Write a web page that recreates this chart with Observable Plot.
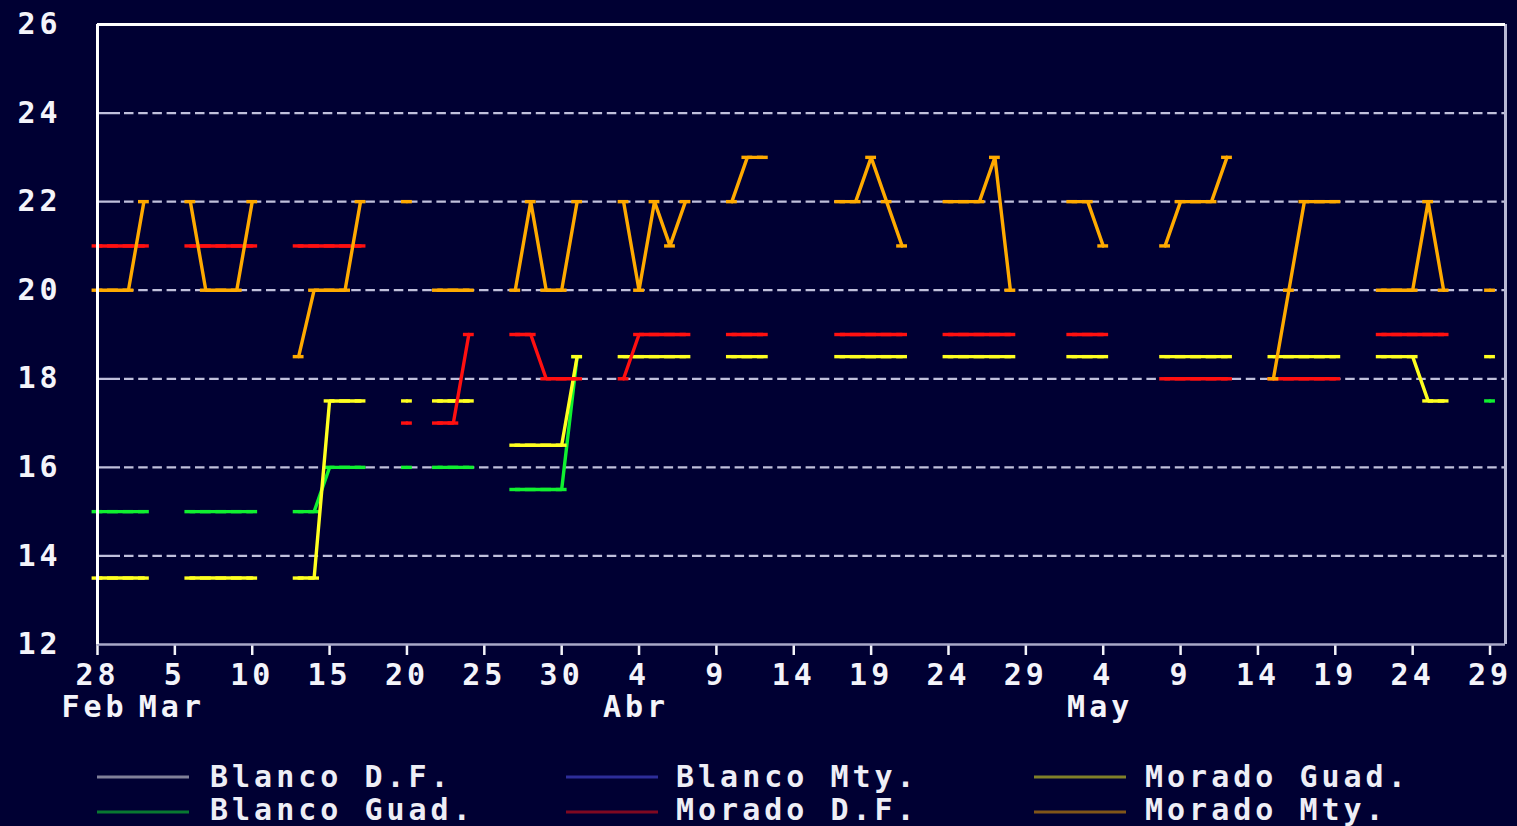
<!DOCTYPE html>
<html>
<head>
<meta charset="utf-8">
<script src="https://cdn.jsdelivr.net/npm/d3@7"></script>
<script src="https://cdn.jsdelivr.net/npm/@observablehq/plot@0.6"></script>
<style>
  html, body { margin: 0; padding: 0; background: #000033; }
  #wrap { width: 1517px; height: 826px; overflow: hidden; background: #000033; }
  #wrap svg { display: block; }
  g[aria-label="x-axis tick"] { stroke-width: 2.5px; }
</style>
</head>
<body>
<div id="wrap"></div>
<script>
// ---- observation days (business days with data) ----
const days = [
  "1995-02-28","1995-03-01","1995-03-02","1995-03-03",
  "1995-03-06","1995-03-07","1995-03-08","1995-03-09","1995-03-10",
  "1995-03-13","1995-03-14","1995-03-15","1995-03-16","1995-03-17",
  "1995-03-20",
  "1995-03-22","1995-03-23","1995-03-24",
  "1995-03-27","1995-03-28","1995-03-29","1995-03-30","1995-03-31",
  "1995-04-03","1995-04-04","1995-04-05","1995-04-06","1995-04-07",
  "1995-04-10","1995-04-11","1995-04-12",
  "1995-04-17","1995-04-18","1995-04-19","1995-04-20","1995-04-21",
  "1995-04-24","1995-04-25","1995-04-26","1995-04-27","1995-04-28",
  "1995-05-02","1995-05-03","1995-05-04",
  "1995-05-08","1995-05-09","1995-05-10","1995-05-11","1995-05-12",
  "1995-05-15","1995-05-16","1995-05-17","1995-05-18","1995-05-19",
  "1995-05-22","1995-05-23","1995-05-24","1995-05-25","1995-05-26",
  "1995-05-29"
];

// ---- series values (null = no value) ----
const blancoDF = [];
const blancoMty = [];
const blancoGuad = [
  15,15,15,15,
  15,15,15,15,15,
  15,15,16,16,16,
  16,
  16,16,16,
  15.5,15.5,15.5,15.5,18.5,
  null,null,null,null,null,
  null,null,null,
  null,null,null,null,null,
  null,null,null,null,null,
  null,null,null,
  null,null,null,null,null,
  null,null,null,null,null,
  null,null,null,null,null,
  17.5
];
const moradoGuad = [
  13.5,13.5,13.5,13.5,
  13.5,13.5,13.5,13.5,13.5,
  13.5,13.5,17.5,17.5,17.5,
  17.5,
  17.5,17.5,17.5,
  16.5,16.5,16.5,16.5,18.5,
  18.5,18.5,18.5,18.5,18.5,
  18.5,18.5,18.5,
  18.5,18.5,18.5,18.5,18.5,
  18.5,18.5,18.5,18.5,18.5,
  18.5,18.5,18.5,
  18.5,18.5,18.5,18.5,18.5,
  18.5,18.5,18.5,18.5,18.5,
  18.5,18.5,18.5,17.5,17.5,
  18.5
];
const moradoDF = [
  21,21,21,21,
  21,21,21,21,21,
  21,21,21,21,21,
  17,
  17,17,19,
  19,19,18,18,18,
  18,19,19,19,19,
  19,19,19,
  19,19,19,19,19,
  19,19,19,19,19,
  19,19,19,
  18,18,18,18,18,
  18,18,18,18,18,
  19,19,19,19,19,
  null
];
const moradoMty = [
  20,20,20,22,
  22,20,20,20,22,
  18.5,20,20,20,22,
  22,
  20,20,20,
  20,22,20,20,22,
  22,20,22,21,22,
  22,23,23,
  22,22,23,22,21,
  22,22,22,23,20,
  22,22,21,
  21,22,22,22,23,
  18,20,22,22,22,
  20,20,20,22,20,
  20
];

const seriesNames  = ["Blanco D.F.","Blanco Guad.","Blanco Mty.","Morado D.F.","Morado Guad.","Morado Mty."];
const seriesColors = ["#ffffff","#10f030","#5a5aff","#ff1010","#ffff20","#ffaa00"];
const seriesValues = [blancoDF, blancoGuad, blancoMty, moradoDF, moradoGuad, moradoMty];
const drawOrder    = ["Blanco D.F.","Blanco Mty.","Blanco Guad.","Morado Guad.","Morado D.F.","Morado Mty."];

// ---- axis ticks ----
const yTicks = [12,14,16,18,20,22,24,26];
const gridValues = [14,16,18,20,22,24];
const xTickDays = ["1995-02-28","1995-03-05","1995-03-10","1995-03-15","1995-03-20","1995-03-25","1995-03-30",
  "1995-04-04","1995-04-09","1995-04-14","1995-04-19","1995-04-24","1995-04-29",
  "1995-05-04","1995-05-09","1995-05-14","1995-05-19","1995-05-24","1995-05-29"];
const xTickLabels = ["28","5","10","15","20","25","30","4","9","14","19","24","29","4","9","14","19","24","29"];
const monthLabels = ["Feb","Mar","Abr","May"];
const monthDays = ["1995-02-28","1995-03-05","1995-04-04","1995-05-04"];

// ---- build ----
const parse = d3.utcParse("%Y-%m-%d");
const dates = days.map(parse);
const xTickDates = xTickDays.map(parse);
const DAY = 864e5;
let run = 0;
const runs = dates.map((d, i) => (i > 0 && (d - dates[i - 1]) > 1.5 * DAY ? ++run : run));

const rows = [];
seriesNames.forEach((name, s) => {
  const vals = seriesValues[s];
  dates.forEach((date, i) => {
    const v = vals[i];
    rows.push({series: name, date, run: runs[i], value: (v === null || v === undefined) ? NaN : v});
  });
});

const colorOf = name => seriesColors[seriesNames.indexOf(name)];
const seriesMarks = drawOrder.flatMap(name => {
  const data = rows.filter(r => r.series === name);
  const defined = data.filter(r => Number.isFinite(r.value));
  return [
    Plot.line(data, {x: "date", y: "value", z: "run", stroke: colorOf(name), strokeWidth: 3.4, strokeLinejoin: "bevel"}),
    Plot.ruleY(defined, {
      y: "value",
      x1: r => new Date(+r.date - 0.35 * DAY),
      x2: r => new Date(+r.date + 0.35 * DAY),
      stroke: colorOf(name), strokeWidth: 3.4
    })
  ];
});

const start = parse("1995-02-28");
const end = parse("1995-05-30");
const dash = "23,4," + Array(110).fill("9.5,4.7").join(",");

const chart = Plot.plot({
  width: 1517,
  height: 735,
  marginLeft: 97,
  marginRight: 12,
  marginTop: 24,
  marginBottom: 91,
  style: {
    background: "#000033",
    color: "#f4f4fa",
    fontFamily: "'DejaVu Sans Mono', monospace",
    fontSize: "30px",
    fontWeight: "bold",
    letterSpacing: "4px",
    overflow: "visible"
  },
  x: {
    type: "utc",
    domain: [start, end],
    ticks: xTickDates,
    tickFormat: d => xTickLabels[xTickDates.findIndex(t => +t === +d)],
    tickSize: 11,
    tickPadding: 8,
    label: null
  },
  y: {
    domain: [12, 26],
    ticks: yTicks,
    tickSize: 0,
    tickPadding: 36,
    label: null
  },
  marks: [
    Plot.ruleY(gridValues, {stroke: "#c0c0dc", strokeWidth: 2.2, strokeDasharray: dash}),
    ...seriesMarks,
    Plot.ruleY([12], {stroke: "#a8a8c8", strokeWidth: 2.5}),
    Plot.ruleX([end], {stroke: "#b8b8d4", strokeWidth: 3}),
    Plot.ruleY([26], {stroke: "#ffffff", strokeWidth: 3}),
    Plot.ruleX([start], {stroke: "#ffffff", strokeWidth: 3}),
    Plot.text(monthLabels, {
      x: (d, i) => parse(monthDays[i]),
      frameAnchor: "bottom",
      dy: 63, dx: -3,
      text: d => d,
      fill: "#f4f4fa",
      fontSize: 30,
      lineAnchor: "middle"
    })
  ]
});

const wrap = document.getElementById("wrap");
wrap.appendChild(chart);

// ---- legend (below the plot) ----
const legend = d3.create("svg")
  .attr("width", 1517).attr("height", 91)
  .style("display", "block").style("background", "#000033");
const colX = [97, 566, 1034];
const textX = [210, 676, 1145];
const lineY = [42, 77];
const baseY = [52, 85];
seriesNames.forEach((name, i) => {
  const c = Math.floor(i / 2), r = i % 2;
  legend.append("line")
    .attr("x1", colX[c]).attr("x2", colX[c] + 92)
    .attr("y1", lineY[r]).attr("y2", lineY[r])
    .attr("stroke", seriesColors[i]).attr("stroke-opacity", 0.5).attr("stroke-width", 3);
  legend.append("text")
    .attr("x", textX[c]).attr("y", baseY[r])
    .attr("fill", "#eeeef6")
    .style("font-family", "'DejaVu Sans Mono', monospace")
    .style("font-size", "30px")
    .style("font-weight", "bold")
    .style("letter-spacing", "4px")
    .text(name);
});
wrap.appendChild(legend.node());
</script>
</body>
</html>
